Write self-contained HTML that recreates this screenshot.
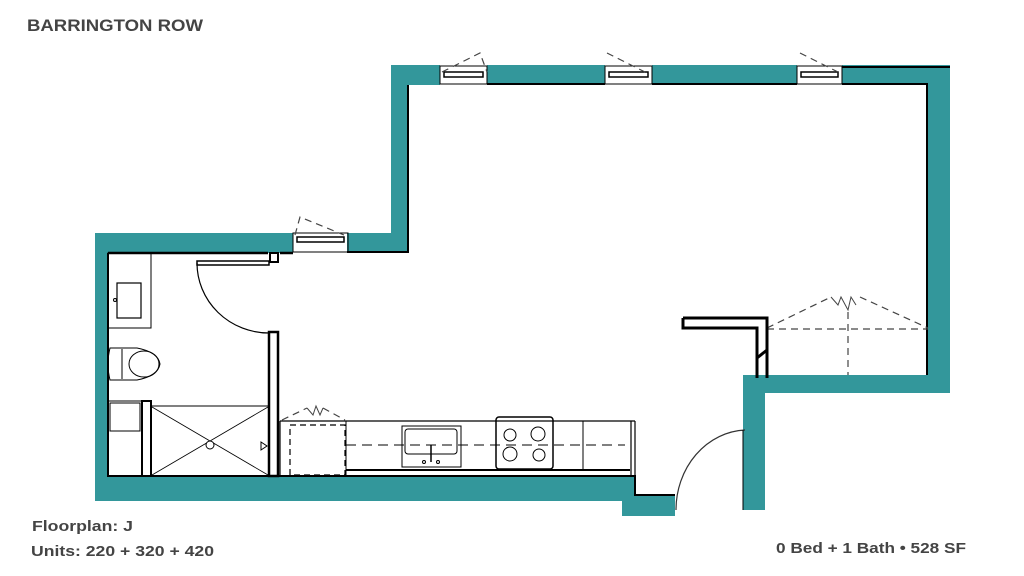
<!DOCTYPE html>
<html><head><meta charset="utf-8"><style>
html,body{margin:0;padding:0;background:#fff;}
svg{display:block;}
</style></head><body>
<svg width="1024" height="576" viewBox="0 0 1024 576" xmlns="http://www.w3.org/2000/svg" font-family="Liberation Sans, sans-serif">
<rect width="1024" height="576" fill="#fff"/>
<g fill="#33979b">
 <!-- top wall segments -->
 <rect x="391" y="65" width="49" height="20"/>
 <rect x="487" y="65" width="118" height="18"/>
 <rect x="652" y="65" width="145" height="18"/>
 <rect x="842" y="65" width="108" height="18"/>
 <!-- right wall -->
 <rect x="927" y="65" width="23" height="328"/>
 <rect x="745" y="375" width="205" height="18"/>
 <rect x="743" y="375" width="22" height="135"/>
 <!-- upper left vertical -->
 <rect x="391" y="65" width="18" height="187"/>
 <rect x="347" y="233" width="62" height="19"/>
 <!-- left section -->
 <rect x="95" y="233" width="198" height="20"/>
 <rect x="95" y="233" width="13" height="268"/>
 <rect x="95" y="476" width="540" height="25"/>
 <rect x="622" y="495" width="53" height="21"/>
</g>
<g fill="none" stroke="#000">
 <!-- inner black lines -->
 <path d="M408 85 V252 H347" stroke-width="2"/>
 <path d="M440 85 H391" stroke-width="0"/>
 <path d="M487 84 H605 M652 84 H797 M842 84 H927 V375" stroke-width="2"/>
 <path d="M842 67 H950" stroke-width="2"/>
 <path d="M765 375 V393 H927" stroke-width="0"/>
 <path d="M108 253 H268 M280 253 H293" stroke-width="2.5"/>
 <path d="M108 253 V476 H635 V495 H675" stroke-width="2"/>
 <!-- windows -->
 <rect x="440" y="66" width="47" height="18" stroke-width="1"/>
 <rect x="444" y="72" width="39" height="5" stroke-width="1.5"/>
 <rect x="605" y="66" width="47" height="18" stroke-width="1"/>
 <rect x="609" y="72" width="39" height="5" stroke-width="1.5"/>
 <rect x="797" y="66" width="45" height="18" stroke-width="1"/>
 <rect x="801" y="72" width="37" height="5" stroke-width="1.5"/>
 <rect x="293" y="233" width="55" height="19" stroke-width="1"/>
 <rect x="297" y="237" width="47" height="5" stroke-width="1.5"/>
</g>
<g fill="none" stroke="#444" stroke-width="1.2" stroke-dasharray="7,5">
 <path d="M442 72 L480 53 L487 72"/>
 <path d="M607 53 L645 72"/>
 <path d="M800 53 L838 72"/>
 <path d="M295 235 L300 217 L344 235"/>
 <path d="M767 328 L831 297 M860 297 L928 328"/>
 <path d="M767 329 H928 M848 312 V375"/>
 <path d="M282 420 L307 408 M323 408 L345 420"/>
</g>
<path d="M831 297 L838 305 L841 297 L848 310 L851 297 L856 305" fill="none" stroke="#444" stroke-width="1"/>
<path d="M307 408 L313 415 L316 406 L320 415 L323 408" fill="none" stroke="#444" stroke-width="1"/>
<!-- counter wall stub -->
<path d="M683 318 H767 V378 M683 318 V328 H757 V378" fill="none" stroke="#000" stroke-width="3"/>
<path d="M757 358 L767 350" stroke="#000" stroke-width="3"/>
<!-- entry door arc -->
<path d="M676 510 A72 80 0 0 1 745 430" fill="none" stroke="#333" stroke-width="1.2"/>
<path d="M743 430 V510" stroke="#000" stroke-width="1"/>
<!-- bathroom -->
<g fill="none" stroke="#000">
 <rect x="270" y="253" width="8" height="9" stroke-width="2"/>
 <rect x="197" y="261" width="72" height="4" stroke-width="1.5"/>
 <path d="M197 263 A72 70 0 0 0 269 333" stroke-width="1.2"/>
 <rect x="269" y="332" width="9" height="144" stroke-width="2.5"/>
 <rect x="108" y="253" width="43" height="75" stroke-width="1"/>
 <rect x="117" y="283" width="24" height="35" stroke-width="1.2"/>
 <circle cx="115" cy="300" r="1.5" stroke-width="1"/>
 <path d="M110 348 H137 Q158 352 160 364 Q158 376 137 380 H110 Q106 364 110 348 Z" stroke-width="1"/>
 <ellipse cx="144" cy="364" rx="15" ry="13" stroke-width="1"/>
 <path d="M122 349 V379" stroke-width="1"/>
 <rect x="108" y="401" width="34" height="75" stroke-width="1"/>
 <rect x="110" y="403" width="30" height="28" stroke-width="1"/>
 <rect x="142" y="401" width="9" height="75" stroke-width="2"/>
 <rect x="151" y="406" width="118" height="70" stroke-width="1"/>
 <path d="M152 407 L268 475 M268 407 L152 475" stroke-width="0.8"/>
 <circle cx="210" cy="445" r="4" fill="#fff" stroke-width="1"/>
 <path d="M261 442 L267 446 L261 450 Z" stroke-width="1"/>
</g>
<!-- kitchen -->
<g fill="none" stroke="#000">
 <path d="M280 421 H635 M280 421 V476 M631 421 V476 M635 421 V476" stroke-width="1.2"/>
 <rect x="290" y="425" width="55" height="50" stroke-width="1.2" stroke-dasharray="6,4"/>
 <path d="M346 421 V476 M583 421 V470" stroke-width="1"/>
 <path d="M346 445 H625" stroke-width="1" stroke-dasharray="10,6"/>
 <path d="M346 470 H630" stroke-width="2"/>
 <rect x="402" y="426" width="59" height="41" stroke-width="1"/>
 <rect x="405" y="429" width="52" height="25" rx="3" stroke-width="1"/>
 <path d="M431 445 V462" stroke-width="1.5"/>
 <circle cx="424" cy="462" r="1.5"/><circle cx="438" cy="462" r="1.5"/>
 <rect x="496" y="417" width="57" height="52" rx="3" stroke-width="1.5"/>
 <circle cx="510" cy="435" r="6"/><circle cx="538" cy="434" r="7"/>
 <circle cx="510" cy="454" r="7"/><circle cx="539" cy="455" r="6"/>
</g>
<g fill="#444" font-weight="bold">
 <text x="27" y="31" font-size="17" textLength="176" lengthAdjust="spacingAndGlyphs">BARRINGTON ROW</text>
 <text x="32" y="531" font-size="15" textLength="101" lengthAdjust="spacingAndGlyphs">Floorplan: J</text>
 <text x="31" y="556" font-size="15" textLength="183" lengthAdjust="spacingAndGlyphs">Units: 220 + 320 + 420</text>
 <text x="776" y="553" font-size="15" textLength="190" lengthAdjust="spacingAndGlyphs">0 Bed + 1 Bath • 528 SF</text>
</g>
</svg>
</body></html>
